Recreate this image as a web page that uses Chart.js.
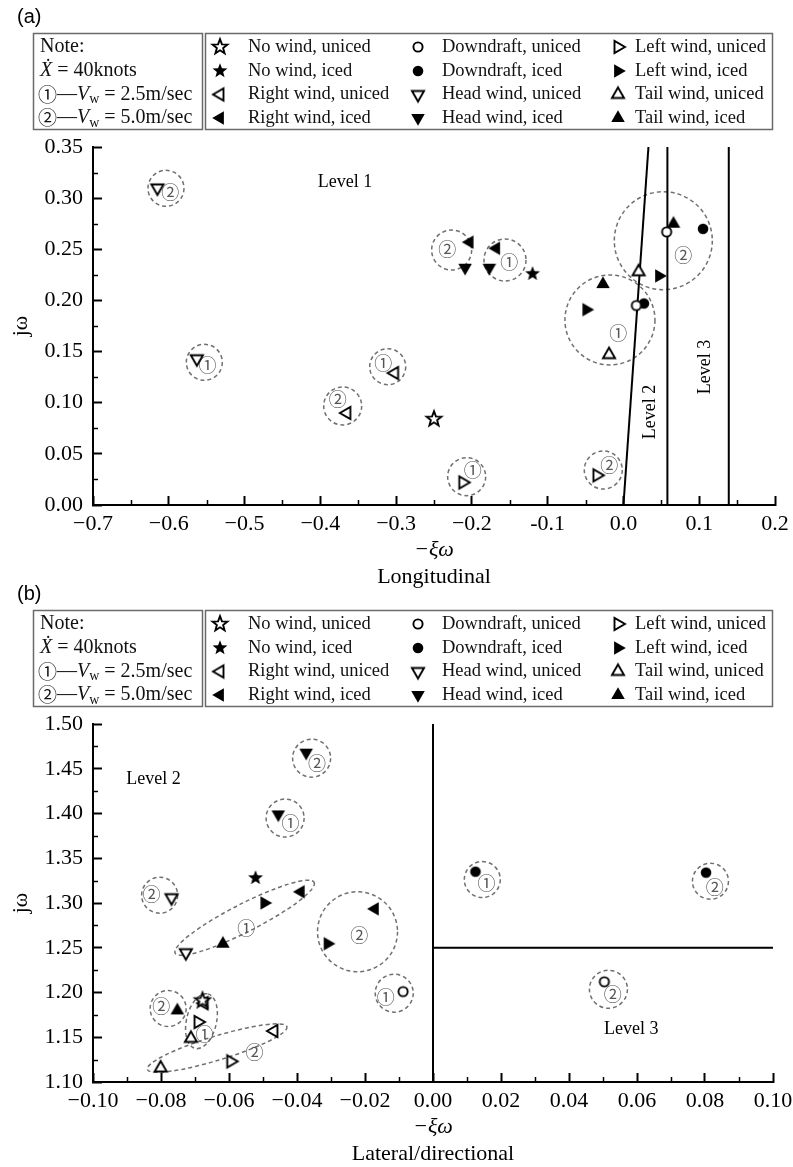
<!DOCTYPE html>
<html>
<head>
<meta charset="utf-8">
<script src="https://cdn.jsdelivr.net/npm/chart.js@4.4.1/dist/chart.umd.min.js"></script>
<style>
  html, body { margin: 0; padding: 0; background: #fff; }
  #wrap { position: relative; width: 793px; height: 1167px; }
  canvas { position: absolute; left: 0; }
  #chartA { top: 0; }
  #chartB { top: 577px; }
</style>
</head>
<body>
<div id="wrap">
  <canvas id="chartA" width="793" height="590"></canvas>
  <canvas id="chartB" width="793" height="590"></canvas>
</div>
<script>
// ---- series (same order in both panels) ----
const seriesLabels = [
  'No wind, uniced', 'No wind, iced', 'Right wind, uniced', 'Right wind, iced',
  'Downdraft, uniced', 'Downdraft, iced', 'Head wind, uniced', 'Head wind, iced',
  'Left wind, uniced', 'Left wind, iced', 'Tail wind, uniced', 'Tail wind, iced'
];

// ---- (a) longitudinal ----
const noWindUnicedA = [{ x: -0.250, y: 0.084 }];
const noWindIcedA   = [{ x: -0.120, y: 0.226 }];
const rightUnicedA  = [{ x: -0.365, y: 0.090 }, { x: -0.302, y: 0.129 }];
const rightIcedA    = [{ x: -0.203, y: 0.257 }, { x: -0.168, y: 0.251 }];
const downUnicedA   = [{ x: 0.017, y: 0.195 }, { x: 0.057, y: 0.267 }];
const downIcedA     = [{ x: 0.027, y: 0.197 }, { x: 0.105, y: 0.270 }];
const headUnicedA   = [{ x: -0.615, y: 0.310 }, { x: -0.563, y: 0.143 }];
const headIcedA     = [{ x: -0.209, y: 0.232 }, { x: -0.177, y: 0.232 }];
const leftUnicedA   = [{ x: -0.212, y: 0.022 }, { x: -0.035, y: 0.029 }];
const leftIcedA     = [{ x: -0.049, y: 0.191 }, { x: 0.047, y: 0.224 }];
const tailUnicedA   = [{ x: -0.019, y: 0.147 }, { x: 0.020, y: 0.228 }];
const tailIcedA     = [{ x: -0.027, y: 0.216 }, { x: 0.066, y: 0.275 }];

const boundariesA = [
  [{ x: 0.000, y: 0.00 }, { x: 0.033, y: 0.35 }],
  [{ x: 0.058, y: 0.00 }, { x: 0.058, y: 0.35 }],
  [{ x: 0.139, y: 0.00 }, { x: 0.139, y: 0.35 }]
];
const xTicksA = [-0.7, -0.6, -0.5, -0.4, -0.3, -0.2, -0.1, 0.0, 0.1, 0.2];
const xTickLabelsA = ['\u22120.7', '\u22120.6', '\u22120.5', '\u22120.4', '\u22120.3', '\u22120.2', '-0.1', '0.0', '0.1', '0.2'];
const yTicksA = [0, 0.05, 0.10, 0.15, 0.20, 0.25, 0.30, 0.35];
const yTickLabelsA = ['0.00', '0.05', '0.10', '0.15', '0.20', '0.25', '0.30', '0.35'];

// ---- (b) lateral/directional ----
const noWindUnicedB = [{ x: -0.0678, y: 1.191 }];
const noWindIcedB   = [{ x: -0.0522, y: 1.328 }];
const rightUnicedB  = [{ x: -0.0673, y: 1.188 }, { x: -0.0468, y: 1.157 }];
const rightIcedB    = [{ x: -0.0389, y: 1.3125 }, { x: -0.0171, y: 1.2935 }];
const downUnicedB   = [{ x: -0.0088, y: 1.201 }, { x: 0.0504, y: 1.212 }];
const downIcedB     = [{ x: 0.0125, y: 1.335 }, { x: 0.0803, y: 1.334 }];
const headUnicedB   = [{ x: -0.0727, y: 1.2445 }, { x: -0.0769, y: 1.306 }];
const headIcedB     = [{ x: -0.0455, y: 1.399 }, { x: -0.0373, y: 1.468 }];
const leftUnicedB   = [{ x: -0.0691, y: 1.167 }, { x: -0.0595, y: 1.123 }];
const leftIcedB     = [{ x: -0.0496, y: 1.300 }, { x: -0.0310, y: 1.2545 }];
const tailUnicedB   = [{ x: -0.0712, y: 1.1487 }, { x: -0.0801, y: 1.1156 }];
const tailIcedB     = [{ x: -0.0618, y: 1.2545 }, { x: -0.0752, y: 1.180 }];

const boundariesB = [
  [{ x: 0, y: 1.10 }, { x: 0, y: 1.50 }],
  [{ x: 0, y: 1.25 }, { x: 0.10, y: 1.25 }]
];
const xTicksB = [-0.10, -0.08, -0.06, -0.04, -0.02, 0, 0.02, 0.04, 0.06, 0.08, 0.10];
const xTickLabelsB = ['\u22120.10', '\u22120.08', '\u22120.06', '\u22120.04', '\u22120.02', '0.00', '0.02', '0.04', '0.06', '0.08', '0.10'];
const yTicksB = [1.10, 1.15, 1.20, 1.25, 1.30, 1.35, 1.40, 1.45, 1.50];
const yTickLabelsB = ['1.10', '1.15', '1.20', '1.25', '1.30', '1.35', '1.40', '1.45', '1.50'];

// ---- markers ----
const SERIF = '"Liberation Serif", "Times New Roman", serif';
const CIRCLED = '"Noto Sans CJK JP", "DejaVu Sans", sans-serif';
const seriesShapes = [
  ['star', false], ['star', true], ['left', false], ['left', true],
  ['circle', false], ['circle', true], ['down', false], ['down', true],
  ['right', false], ['right', true], ['up', false], ['up', true]
];

function markerImage(shape, filled) {
  const size = 22;
  const c = document.createElement('canvas');
  c.width = c.height = size;
  const g = c.getContext('2d');
  g.translate(size / 2, size / 2);
  g.beginPath();
  if (shape === 'circle') {
    g.arc(0, 0, filled ? 5.3 : 4.6, 0, Math.PI * 2);
  } else if (shape === 'star') {
    for (let i = 0; i < 10; i++) {
      const r = i % 2 ? 3.3 : 7.8;
      const a = -Math.PI / 2 + i * Math.PI / 5;
      g.lineTo(r * Math.cos(a), r * Math.sin(a));
    }
    g.closePath();
  } else {
    const rot = { up: 0, down: 180, left: -90, right: 90 }[shape] * Math.PI / 180;
    const R = filled ? 7.8 : 7;
    for (let i = 0; i < 3; i++) {
      const a = rot - Math.PI / 2 + i * 2 * Math.PI / 3;
      g.lineTo(R * Math.cos(a), R * Math.sin(a));
    }
    g.closePath();
  }
  g.fillStyle = filled ? '#000' : '#fff';
  g.fill();
  if (!filled) {
    g.strokeStyle = '#000';
    g.lineWidth = 1.9;
    g.stroke();
  }
  return c;
}
const markerImages = seriesShapes.map(s => markerImage(s[0], s[1]));

// ---- drawing helpers ----
function drawRuns(ctx, x, y, runs) {
  runs.forEach(r => {
    ctx.font = r.font;
    ctx.fillText(r.t, x, y + (r.dy || 0));
    x += ctx.measureText(r.t).width + (r.gap || 0);
  });
}

function noteLine(num, value) {
  return [
    { t: num, font: '19px ' + CIRCLED },
    { t: '\u2014', font: '20px ' + SERIF },
    { t: 'V', font: 'italic 20px ' + SERIF },
    { t: 'w', font: '14px ' + SERIF, dy: 5 },
    { t: ' = ' + value, font: '20px ' + SERIF }
  ];
}

const paperPlugin = {
  id: 'paper',
  beforeDatasetsDraw(chart, args, opts) {
    const { ctx, scales: { x, y } } = chart;
    ctx.save();
    // dashed outlines around each wind-speed group
    ctx.strokeStyle = '#707070';
    ctx.lineWidth = 1.5;
    ctx.setLineDash([4, 3]);
    opts.groups.forEach(g => {
      ctx.beginPath();
      ctx.ellipse(x.getPixelForValue(g.x), y.getPixelForValue(g.y), g.rx, g.ry || g.rx,
        (g.rot || 0) * Math.PI / 180, 0, Math.PI * 2);
      ctx.stroke();
    });
    ctx.setLineDash([]);
    ctx.fillStyle = '#555';
    ctx.font = '18px ' + CIRCLED;
    ctx.textAlign = 'center';
    ctx.textBaseline = 'middle';
    opts.groups.forEach(g => {
      ctx.fillText(g.n, x.getPixelForValue(g.nx), y.getPixelForValue(g.ny));
    });
    ctx.restore();
  },
  afterDraw(chart, args, opts) {
    const { ctx, chartArea: area, scales: { x, y } } = chart;
    ctx.save();
    ctx.fillStyle = '#000';
    ctx.strokeStyle = '#000';

    // minor ticks halfway between the major ones
    ctx.lineWidth = 1.5;
    const mid = s => s.ticks.slice(1).map((t, i) => (t.value + s.ticks[i].value) / 2);
    mid(x).forEach(v => {
      const px = Math.round(x.getPixelForValue(v)) + 0.5;
      ctx.beginPath(); ctx.moveTo(px, area.bottom); ctx.lineTo(px, area.bottom - 5); ctx.stroke();
    });
    mid(y).forEach(v => {
      const py = Math.round(y.getPixelForValue(v)) + 0.5;
      ctx.beginPath(); ctx.moveTo(area.left, py); ctx.lineTo(area.left + 5, py); ctx.stroke();
    });

    // panel tag
    ctx.font = '20px "Liberation Sans", Arial, sans-serif';
    ctx.textAlign = 'left';
    ctx.textBaseline = 'middle';
    ctx.fillText(opts.tag, 17, 17);

    // note box + legend box
    ctx.strokeStyle = '#6a6a6a';
    ctx.lineWidth = 1.5;
    ctx.strokeRect(33.5, 33.5, 169, 96);
    ctx.strokeRect(205.5, 33.5, 567, 96);

    const rows = [47, 71, 94.5, 118];
    ctx.fillStyle = '#111';
    drawRuns(ctx, 40, rows[0], [{ t: 'Note:', font: '20px ' + SERIF }]);
    drawRuns(ctx, 40, rows[1], [
      { t: '\u1E8A', font: 'italic 20px ' + SERIF },
      { t: ' = 40knots', font: '20px ' + SERIF }
    ]);
    drawRuns(ctx, 38, rows[2], noteLine('\u2460', '2.5m/sec'));
    drawRuns(ctx, 38, rows[3], noteLine('\u2461', '5.0m/sec'));

    const markerX = [220, 418, 618];
    const textX = [248, 442, 635];
    ctx.font = '18.5px ' + SERIF;
    chart.data.datasets.forEach((ds, i) => {
      if (!ds.label) return;
      const col = Math.floor(i / 4), row = i % 4;
      const img = ds.pointStyle;
      ctx.drawImage(img, markerX[col] - img.width / 2, rows[row] - img.height / 2);
      ctx.fillText(ds.label, textX[col], rows[row]);
    });

    // axis titles
    ctx.fillStyle = '#000';
    ctx.textAlign = 'center';
    const cx = (area.left + area.right) / 2;
    ctx.font = 'italic 22px ' + SERIF;
    ctx.fillText('\u2212\u03BE\u03C9', cx, area.bottom + 45);
    ctx.font = '22px ' + SERIF;
    ctx.fillText(opts.subtitle, cx, area.bottom + 72);
    ctx.save();
    ctx.translate(21, (area.top + area.bottom) / 2);
    ctx.rotate(-Math.PI / 2);
    ctx.fillText('j\u03C9', 0, 0);
    ctx.restore();

    // region labels
    ctx.font = '18px ' + SERIF;
    opts.levels.forEach(l => {
      ctx.save();
      ctx.translate(x.getPixelForValue(l.x), y.getPixelForValue(l.y));
      ctx.rotate((l.rot || 0) * Math.PI / 180);
      ctx.fillText(l.t, 0, 0);
      ctx.restore();
    });
    ctx.restore();
  }
};

function axis(pos, min, max, ticks, labels, fitSize) {
  return {
    type: 'linear',
    position: pos,
    min: min,
    max: max,
    afterBuildTicks: s => { s.ticks = ticks.map(v => ({ value: v })); },
    afterFit: s => {
      if (pos === 'bottom') { s.height = fitSize; s.paddingLeft = 0; s.paddingRight = 0; }
      else { s.width = fitSize; s.paddingTop = 0; s.paddingBottom = 0; }
    },
    border: { display: true, color: '#000', width: 2 },
    grid: { drawOnChartArea: false, drawTicks: true, tickLength: -9, tickColor: '#000', tickWidth: 2 },
    ticks: {
      autoSkip: false,
      maxRotation: 0,
      padding: pos === 'bottom' ? 15 : 19,
      color: '#000',
      font: { family: SERIF, size: 22 },
      callback: (v, i) => labels[i]
    }
  };
}

function buildPanel(canvasId, p) {
  const datasets = p.series.map((pts, i) => ({
    label: seriesLabels[i],
    data: pts,
    pointStyle: markerImages[i],
    pointRadius: 7,
    order: 0
  }));
  p.boundaries.forEach(seg => datasets.push({
    label: '',
    data: seg,
    showLine: true,
    borderColor: '#000',
    borderWidth: 2,
    pointRadius: 0,
    order: 5
  }));
  return new Chart(document.getElementById(canvasId), {
    type: 'scatter',
    data: { datasets },
    options: {
      responsive: false,
      animation: false,
      devicePixelRatio: 1,
      layout: { padding: { left: 0, top: 147, right: p.right, bottom: 0 } },
      plugins: {
        legend: { display: false },
        tooltip: { enabled: false },
        paper: { tag: p.tag, subtitle: p.subtitle, groups: p.groups, levels: p.levels }
      },
      scales: {
        x: axis('bottom', p.xMin, p.xMax, p.xTicks, p.xLabels, p.height - 505),
        y: axis('left', p.yMin, p.yMax, p.yTicks, p.yLabels, 93)
      }
    },
    plugins: [paperPlugin]
  });
}

buildPanel('chartA', {
  tag: '(a)', subtitle: 'Longitudinal', height: 590, right: 18,
  xMin: -0.7, xMax: 0.2, yMin: 0, yMax: 0.35,
  xTicks: xTicksA, xLabels: xTickLabelsA, yTicks: yTicksA, yLabels: yTickLabelsA,
  series: [noWindUnicedA, noWindIcedA, rightUnicedA, rightIcedA, downUnicedA, downIcedA,
           headUnicedA, headIcedA, leftUnicedA, leftIcedA, tailUnicedA, tailIcedA],
  boundaries: boundariesA,
  groups: [
    { x: -0.6037, y: 0.3096, rx: 18, n: '\u2461', nx: -0.598, ny: 0.306 },
    { x: -0.5531, y: 0.1395, rx: 18, n: '\u2460', nx: -0.549, ny: 0.137 },
    { x: -0.3705, y: 0.0968, rx: 19, n: '\u2461', nx: -0.377, ny: 0.103 },
    { x: -0.3111, y: 0.1352, rx: 18, n: '\u2460', nx: -0.317, ny: 0.139 },
    { x: -0.2267, y: 0.2493, rx: 20, n: '\u2461', nx: -0.2325, ny: 0.250 },
    { x: -0.1563, y: 0.2395, rx: 21, n: '\u2460', nx: -0.1506, ny: 0.237 },
    { x: -0.2069, y: 0.0277, rx: 19, n: '\u2460', nx: -0.199, ny: 0.0342 },
    { x: -0.0266, y: 0.0342, rx: 19, n: '\u2461', nx: -0.0187, ny: 0.0391 },
    { x: -0.0178, y: 0.1809, rx: 45, n: '\u2460', nx: -0.0068, ny: 0.1684 },
    { x: 0.0526, y: 0.2584, rx: 49, n: '\u2461', nx: 0.079, ny: 0.2444 }
  ],
  levels: [
    { t: 'Level 1', x: -0.3675, y: 0.316 },
    { t: 'Level 2', x: 0.035, y: 0.091, rot: -90 },
    { t: 'Level 3', x: 0.1076, y: 0.135, rot: -90 }
  ]
});

buildPanel('chartB', {
  tag: '(b)', subtitle: 'Lateral/directional', height: 590, right: 20,
  xMin: -0.1, xMax: 0.1, yMin: 1.1, yMax: 1.5,
  xTicks: xTicksB, xLabels: xTickLabelsB, yTicks: yTicksB, yLabels: yTickLabelsB,
  series: [noWindUnicedB, noWindIcedB, rightUnicedB, rightIcedB, downUnicedB, downIcedB,
           headUnicedB, headIcedB, leftUnicedB, leftIcedB, tailUnicedB, tailIcedB],
  boundaries: boundariesB,
  groups: [
    { x: -0.0357, y: 1.4618, rx: 19, n: '\u2461', nx: -0.0341, ny: 1.4562 },
    { x: -0.0435, y: 1.3949, rx: 19, n: '\u2460', nx: -0.0419, ny: 1.3894 },
    { x: -0.0804, y: 1.3087, rx: 18, n: '\u2461', nx: -0.0828, ny: 1.3095 },
    { x: -0.0554, y: 1.2835, rx: 78, ry: 14, rot: -27, n: '\u2460', nx: -0.0549, ny: 1.2716 },
    { x: -0.0222, y: 1.2679, rx: 40, n: '\u2461', nx: -0.0217, ny: 1.2641 },
    { x: -0.0114, y: 1.1992, rx: 19, n: '\u2460', nx: -0.0139, ny: 1.195 },
    { x: -0.0779, y: 1.1821, rx: 18, n: '\u2461', nx: -0.0799, ny: 1.185 },
    { x: -0.0681, y: 1.168, rx: 28, ry: 15, rot: -77, n: '\u2460', nx: -0.0672, ny: 1.1535 },
    { x: -0.0635, y: 1.1379, rx: 73, ry: 12, rot: -17, n: '\u2461', nx: -0.0525, ny: 1.1331 },
    { x: 0.0145, y: 1.3262, rx: 18, n: '\u2460', nx: 0.0157, ny: 1.3225 },
    { x: 0.0816, y: 1.3243, rx: 18, n: '\u2461', nx: 0.0829, ny: 1.3173 },
    { x: 0.0516, y: 1.2036, rx: 19, n: '\u2461', nx: 0.0529, ny: 1.198 }
  ],
  levels: [
    { t: 'Level 2', x: -0.0822, y: 1.4387 },
    { t: 'Level 3', x: 0.0583, y: 1.159 }
  ]
});
</script>
</body>
</html>
